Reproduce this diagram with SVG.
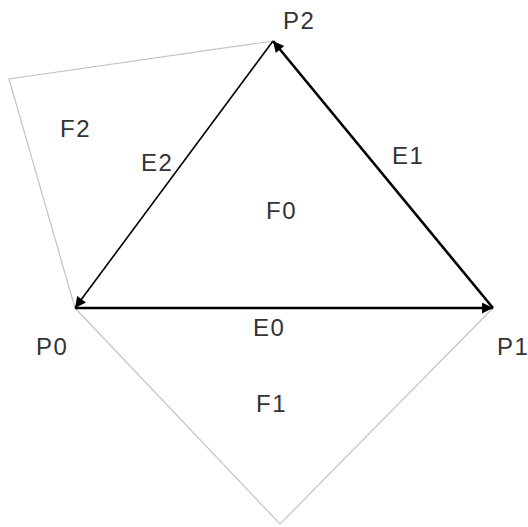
<svg xmlns="http://www.w3.org/2000/svg" width="528" height="527" viewBox="0 0 528 527">
<style>
.face{fill:none;stroke:#c4c4c4;stroke-width:1.2}
.edge{stroke:#000;fill:none}
.lbl{font-family:"Liberation Sans",Arial,sans-serif;font-size:24px;fill:#333;letter-spacing:1.5px}
</style>
<defs>
<marker id="ah" viewBox="0 0 10 10" refX="10" refY="5" markerWidth="15" markerHeight="11" markerUnits="userSpaceOnUse" orient="auto">
<path d="M0,0 L10,5 L0,10 z" fill="#000"/>
</marker>
</defs>
<rect width="528" height="527" fill="#fff"/>
<g id="faces">
<polyline class="face" points="273,41 9,79 75,308"/>
<polyline class="face" points="75,308 280,524 493,308"/>
</g>
<g id="connectors">
<line id="E0" class="edge" x1="75" y1="308" x2="493" y2="308" stroke-width="2.6" marker-end="url(#ah)"/>
<line id="E1" class="edge" x1="493" y1="308" x2="273" y2="41" stroke-width="2.6" marker-end="url(#ah)"/>
<line id="E2" class="edge" x1="273" y1="41" x2="75" y2="308" stroke-width="1.6" marker-end="url(#ah)"/>
</g>
<g id="P0"><text class="lbl" x="36" y="355">P0</text></g>
<g id="P1"><text class="lbl" x="497" y="355">P1</text></g>
<g id="P2"><text class="lbl" x="283" y="29">P2</text></g>
<g id="F0"><text class="lbl" x="266" y="219">F0</text></g>
<g id="F1"><text class="lbl" x="256" y="412">F1</text></g>
<g id="F2"><text class="lbl" x="60" y="137">F2</text></g>
<g id="labelE0"><text class="lbl" x="253" y="336">E0</text></g>
<g id="labelE1"><text class="lbl" x="392" y="164">E1</text></g>
<g id="labelE2"><text class="lbl" x="141" y="171">E2</text></g>
</svg>
